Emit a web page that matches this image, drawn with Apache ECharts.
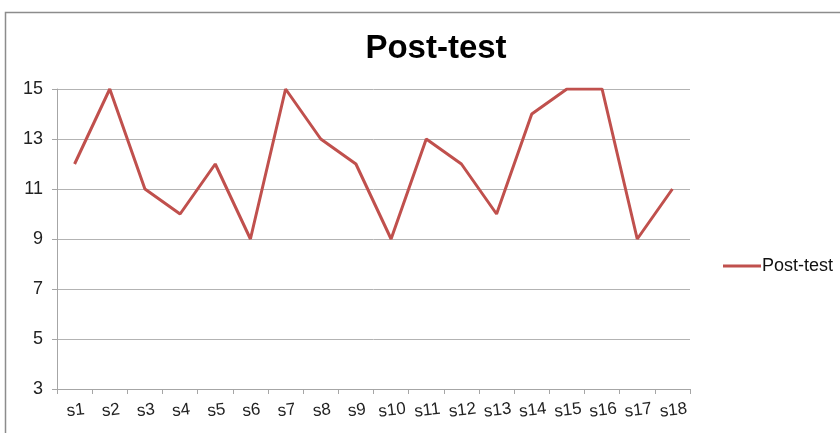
<!DOCTYPE html>
<html><head><meta charset="utf-8">
<script src="https://cdn.jsdelivr.net/npm/echarts@6/dist/echarts.min.js"></script>
<style>html,body{margin:0;padding:0;background:#fff}#c{width:840px;height:433px}</style>
</head><body><div id="c"></div>
<script>
var categories = ['s1','s2','s3','s4','s5','s6','s7','s8','s9','s10','s11','s12','s13','s14','s15','s16','s17','s18'];
var postTest = [12,15,11,10,12,9,15,13,12,9,13,12,10,14,15,15,9,11];
var yTicks = [3,5,7,9,11,13,15];
var seriesName = 'Post-test';
var chart = echarts.init(document.getElementById('c'));
chart.setOption({
  animation:false,
  backgroundColor:'#fff',
  textStyle:{fontFamily:'Liberation Sans, Arial, sans-serif'},
  title:{text:'Post-test',left:431,textAlign:'center',top:27,textStyle:{fontSize:33,fontWeight:'bold',color:'#000',fontFamily:'Liberation Sans, Arial, sans-serif'}},
  graphic:[{type:'rect',shape:{x:5.5,y:12.5,width:900,height:500},style:{fill:'none',stroke:'#8c8c8c',lineWidth:1.5},silent:true}],
  legend:{data:[seriesName],left:718,top:252,itemWidth:38,itemHeight:3,itemGap:4,icon:'rect',textStyle:{fontSize:18,color:'#111',padding:[0,0,0,-4]}},
  grid:{left:57,top:89,width:633,height:300,containLabel:false},
  xAxis:{type:'category',data:categories,boundaryGap:true,
    axisLine:{lineStyle:{color:'#a6a6a6',width:1}},
    axisTick:{show:true,interval:0,length:5,lineStyle:{color:'#a6a6a6'},alignWithLabel:false},
    axisLabel:{interval:0,hideOverlap:false,fontSize:17,color:'#222',margin:13,rotate:7,align:'center',verticalAlign:'top'}},
  yAxis:{type:'value',min:3,max:15,interval:2,
    axisLine:{show:true,lineStyle:{color:'#a6a6a6'}},
    axisTick:{show:true,length:5,lineStyle:{color:'#a6a6a6'}},
    splitLine:{lineStyle:{color:'#b3b3b3',width:1}},
    axisLabel:{fontSize:18,color:'#222',margin:14,formatter:function(v){return yTicks.indexOf(v)>=0?String(v):'';}}},
  series:[{name:seriesName,type:'line',data:postTest,symbol:'none',
    lineStyle:{color:'#c0504d',width:3},itemStyle:{color:'#c0504d'}}]
});
</script></body></html>
